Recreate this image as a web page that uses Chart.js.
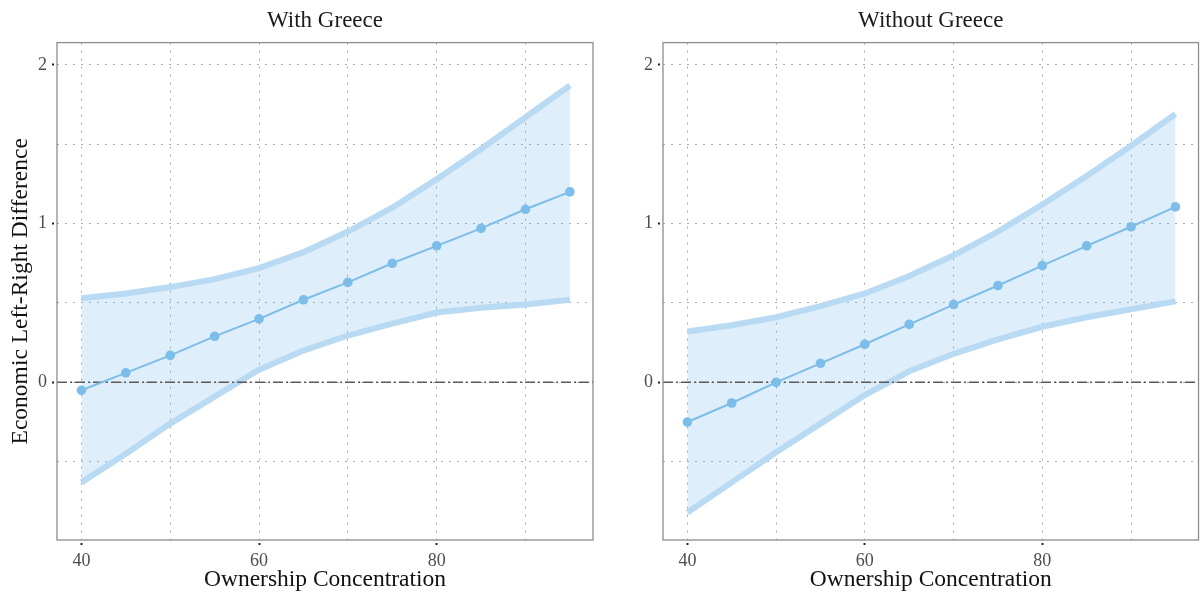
<!DOCTYPE html>
<html>
<head>
<meta charset="utf-8">
<script src="https://cdn.jsdelivr.net/npm/chart.js@4/dist/chart.umd.min.js"></script>
<style>
  html, body { margin: 0; padding: 0; background: #fff; }
  #wrap { position: relative; width: 1200px; height: 596px; }
  .panel { position: absolute; top: 0; width: 600px; height: 596px; }
</style>
</head>
<body>
<div id="wrap">
  <div class="panel" style="left:0"><canvas id="withGreece" width="600" height="596"></canvas></div>
  <div class="panel" style="left:600px"><canvas id="withoutGreece" width="600" height="596"></canvas></div>
</div>
<script>
// values
const concentration = [40, 45, 50, 55, 60, 65, 70, 75, 80, 85, 90, 95];

const withEstimate = [-0.05, 0.06, 0.17, 0.29, 0.40, 0.52, 0.63, 0.75, 0.86, 0.97, 1.09, 1.20];
const withUpper = [0.53, 0.56, 0.60, 0.65, 0.72, 0.82, 0.95, 1.10, 1.28, 1.47, 1.67, 1.87];
const withLower = [-0.63, -0.45, -0.26, -0.09, 0.08, 0.20, 0.295, 0.37, 0.44, 0.47, 0.49, 0.52];

const withoutEstimate = [-0.25, -0.13, 0.0, 0.12, 0.24, 0.365, 0.49, 0.61, 0.735, 0.86, 0.98, 1.105];
const withoutUpper = [0.32, 0.36, 0.41, 0.48, 0.56, 0.67, 0.80, 0.95, 1.12, 1.30, 1.49, 1.69];
const withoutLower = [-0.82, -0.63, -0.44, -0.26, -0.08, 0.07, 0.18, 0.27, 0.35, 0.41, 0.46, 0.51];

const xMajorTicks = [40, 60, 80];
const xMinorTicks = [50, 70, 90];
const yMajorTicks = [0, 1, 2];
const yMinorTicks = [-0.5, 0.5, 1.5];
const xRange = [37.25, 97.6];
const yRange = [-0.993, 2.14];
const zeroLine = 0;

const panelTitles = ['With Greece', 'Without Greece'];
const xTitle = 'Ownership Concentration';
const yTitle = 'Economic Left-Right Difference';

(function () {
    'use strict';

    const SERIF = '"Liberation Serif", "Times New Roman", serif';
    const BLUE = '#7dbde9';
    Chart.defaults.font.family = SERIF;

    function points(values) {
        return concentration.map(function (x, i) { return { x: x, y: values[i] }; });
    }

    function tickList(major, minor) {
        return major.concat(minor).sort(function (a, b) { return a - b; })
            .map(function (v) { return { value: v }; });
    }

    // only the labelled ticks get a tick mark
    function tickColor(major) {
        return function (ctx) {
            return ctx.tick && major.includes(ctx.tick.value) ? '#222' : 'rgba(0,0,0,0)';
        };
    }

    const framePlugin = {
        id: 'panelFrame',
        afterDatasetsDraw: function (chart) {
            const a = chart.chartArea;
            const ctx = chart.ctx;
            ctx.save();
            ctx.strokeStyle = '#8c8c8c';
            ctx.lineWidth = 1.3;
            ctx.strokeRect(a.left, a.top, a.right - a.left, a.bottom - a.top);
            ctx.restore();
        }
    };

    function makePanel(canvasId, title, est, lower, upper, yAxisWidth, padRight, showYTitle) {
        new Chart(document.getElementById(canvasId), {
            type: 'line',
            data: {
                datasets: [
                    {
                        data: points(est),
                        borderColor: BLUE,
                        borderWidth: 2,
                        pointRadius: 4.8,
                        pointBackgroundColor: BLUE,
                        pointBorderWidth: 0,
                        fill: false,
                    },
                    {
                        data: [{ x: xRange[0], y: zeroLine }, { x: xRange[1], y: zeroLine }],
                        borderColor: '#5a5a5a',
                        borderWidth: 1.5,
                        borderDash: [10, 3, 2, 3],
                        pointRadius: 0,
                        fill: false,
                    },
                    {
                        data: points(upper),
                        borderColor: '#b9daf3',
                        borderWidth: 6,
                        pointRadius: 0,
                        backgroundColor: 'rgba(125,188,235,0.25)',
                        fill: '+1',
                    },
                    {
                        data: points(lower),
                        borderColor: '#b9daf3',
                        borderWidth: 6,
                        pointRadius: 0,
                        fill: false,
                    },
                ],
            },
            options: {
                responsive: false,
                animation: false,
                layout: { autoPadding: false, padding: { top: 0, right: padRight, bottom: 0, left: 0 } },
                plugins: {
                    legend: { display: false },
                    tooltip: { enabled: false },
                    filler: { drawTime: 'beforeDatasetsDraw' },
                    title: {
                        display: true,
                        text: title,
                        fullSize: false,
                        color: '#1a1a1a',
                        font: { size: 23, weight: 'normal' },
                        padding: { top: 7, bottom: 8 },
                    },
                },
                scales: {
                    x: {
                        type: 'linear',
                        min: xRange[0],
                        max: xRange[1],
                        afterBuildTicks: function (scale) { scale.ticks = tickList(xMajorTicks, xMinorTicks); },
                        afterFit: function (scale) { scale.height = 56; },
                        border: { display: false, dash: [2, 6] },
                        grid: {
                            color: '#a9a9a9',
                            lineWidth: 1,
                            tickLength: 5,
                            tickWidth: 2,
                            tickColor: tickColor(xMajorTicks),
                            tickBorderDash: [2, 10],
                            tickBorderDashOffset: 9,
                        },
                        ticks: {
                            padding: 5,
                            color: '#4d4d4d',
                            font: { size: 18 },
                            maxRotation: 0,
                            autoSkip: false,
                            callback: function (v) { return xMajorTicks.includes(v) ? String(v) : ''; },
                        },
                        title: {
                            display: true,
                            text: xTitle,
                            color: '#111',
                            font: { size: 23.5 },
                            padding: { top: 0, bottom: 2 },
                        },
                    },
                    y: {
                        min: yRange[0],
                        max: yRange[1],
                        afterBuildTicks: function (scale) { scale.ticks = tickList(yMajorTicks, yMinorTicks); },
                        afterFit: function (scale) { scale.width = yAxisWidth; },
                        border: { display: false, dash: [2, 6] },
                        grid: {
                            color: '#a9a9a9',
                            lineWidth: 1,
                            tickLength: 5,
                            tickWidth: 2,
                            tickColor: tickColor(yMajorTicks),
                            tickBorderDash: [2, 10],
                        },
                        ticks: {
                            padding: 5,
                            color: '#4d4d4d',
                            font: { size: 18 },
                            autoSkip: false,
                            callback: function (v) { return yMajorTicks.includes(v) ? String(v) : ''; },
                        },
                        title: {
                            display: showYTitle,
                            text: yTitle,
                            color: '#111',
                            font: { size: 23.5 },
                            padding: { top: 7, bottom: 0 },
                        },
                    },
                },
            },
            plugins: [framePlugin],
        });
    }

    makePanel('withGreece', panelTitles[0], withEstimate, withLower, withUpper, 57, 7, true);
    makePanel('withoutGreece', panelTitles[1], withoutEstimate, withoutLower, withoutUpper, 63, 1.5, false);
})();
</script>
</body>
</html>
